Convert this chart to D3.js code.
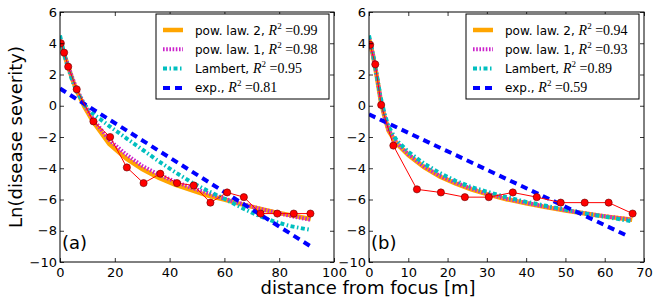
<!DOCTYPE html>
<html>
<head>
<meta charset="utf-8">
<script src="https://cdn.jsdelivr.net/npm/d3@7"></script>
<style>
  body { margin: 0; background: #fff; }
  svg { display: block; }
  .tick text { font-family: "DejaVu Sans", sans-serif; font-size: 13px; fill: #000; }
  .tick line { stroke: #000; stroke-width: 0.8; }
</style>
</head>
<body>
<div id="main"></div>
<script>
// observed data, panel (a)
const distA = [0.3, 1.5, 3.0, 6.1, 12.2, 18.3, 24.4, 30.5, 36.6, 42.7, 48.8, 54.9, 61.0, 67.1, 73.2, 79.3, 85.3, 91.4];
const sevA = [4.0, 3.4, 2.5, 1.05, -1.0, -2.0, -3.95, -4.95, -4.35, -4.95, -5.1, -6.2, -5.55, -5.85, -6.9, -6.9, -6.9, -6.9];

// observed data, panel (b)
const distB = [0.3, 1.6, 3.1, 6.2, 12.2, 18.3, 24.4, 30.5, 36.6, 42.7, 48.8, 54.9, 61.0, 67.1];
const sevB = [3.9, 2.65, 0.05, -2.55, -5.35, -5.55, -5.85, -5.85, -5.55, -5.85, -6.2, -6.2, -6.2, -6.9];

// fitted curves, panel (a)
const fitXA = [0, 1.5, 3, 4.5, 6, 9, 12, 18, 24, 30, 36, 42, 48, 54, 60, 66, 72, 78, 84, 91.5];
const pow2A = [4.2, 3.3, 2.5, 1.7, 1.0, -0.1, -1.0, -2.45, -3.35, -4.05, -4.6, -5.05, -5.4, -5.75, -6.0, -6.3, -6.55, -6.8, -7.0, -7.25];
const pow1A = [4.2, 3.35, 2.55, 1.8, 1.1, 0.05, -0.85, -2.2, -3.1, -3.85, -4.4, -4.85, -5.25, -5.6, -5.95, -6.25, -6.55, -6.8, -7.05, -7.3];
const lambA = [4.5, 3.3, 2.4, 1.6, 0.95, 0.05, -0.5, -1.3, -2.05, -2.8, -3.55, -4.25, -4.9, -5.45, -5.95, -6.5, -7.0, -7.4, -7.7, -7.95];
const expXA = [0, 91.5];
const expA = [1.1, -9.0];

// fitted curves, panel (b)
const fitXB = [0, 1, 2, 3, 4, 5, 7, 10, 14, 18, 22, 26, 30, 35, 40, 45, 50, 55, 60, 67];
const pow2B = [4.3, 3.25, 1.85, 0.3, -0.75, -1.6, -2.4, -3.15, -3.93, -4.53, -4.97, -5.35, -5.66, -5.98, -6.24, -6.49, -6.7, -6.9, -7.08, -7.3];
const pow1B = [4.3, 3.3, 1.9, 0.35, -0.7, -1.55, -2.35, -3.1, -3.88, -4.48, -4.92, -5.3, -5.62, -5.95, -6.21, -6.46, -6.68, -6.88, -7.07, -7.3];
const lambB = [4.5, 3.3, 1.9, 0.5, -0.55, -1.35, -2.2, -2.95, -3.7, -4.3, -4.8, -5.2, -5.5, -5.85, -6.15, -6.4, -6.65, -6.9, -7.1, -7.4];
const expXB = [0, 66];
const expB = [-0.55, -8.35];

const modelNames = ["pow. law. 2", "pow. law. 1", "Lambert", "exp."];
const r2A = ["0.99", "0.98", "0.95", "0.81"];
const r2B = ["0.94", "0.93", "0.89", "0.59"];

const xTicksA = [0, 20, 40, 60, 80, 100];
const xTicksB = [0, 10, 20, 30, 40, 50, 60, 70];
const yTicks = [-10, -8, -6, -4, -2, 0, 2, 4, 6];

const styles = [
  { color: "#ffa500", width: 4.5, dash: null },
  { color: "#cc22cc", width: 4, dash: "1.6,1.6" },
  { color: "#00bfbf", width: 4, dash: "4,2.5,1.5,2.5" },
  { color: "#0000ff", width: 4, dash: "7,5" }
];

const W = 664, H = 302;
const svg = d3.select("#main").append("svg").attr("width", W).attr("height", H);

const y = d3.scaleLinear().domain([-10, 6]).range([262, 12]);

function drawPanel(opts) {
  const x = d3.scaleLinear().domain(opts.xDomain).range(opts.xRange);
  const g = svg.append("g");
  const top = y.range()[1], bottom = y.range()[0];
  const left = opts.xRange[0], right = opts.xRange[1];

  g.append("clipPath").attr("id", opts.id + "-clip")
    .append("rect")
    .attr("x", left).attr("y", top)
    .attr("width", right - left).attr("height", bottom - top);

  const plot = g.append("g").attr("clip-path", `url(#${opts.id}-clip)`);
  const line = d3.line().x(d => x(d[0])).y(d => y(d[1]));

  opts.curves.forEach((c, i) => {
    const st = styles[i];
    plot.append("path")
      .datum(d3.zip(c.xs, c.ys))
      .attr("fill", "none")
      .attr("stroke", st.color)
      .attr("stroke-width", st.width)
      .attr("stroke-dasharray", st.dash)
      .attr("d", line);
  });

  const obs = d3.zip(opts.dist, opts.sev);
  plot.append("path")
    .datum(obs)
    .attr("fill", "none")
    .attr("stroke", "#ff0000")
    .attr("stroke-width", 1)
    .attr("d", line);
  plot.selectAll("circle.obs")
    .data(obs)
    .enter()
    .append("circle")
    .attr("class", "obs")
    .attr("cx", d => x(d[0]))
    .attr("cy", d => y(d[1]))
    .attr("r", 3.6)
    .attr("fill", "#ff0000")
    .attr("stroke", "#600")
    .attr("stroke-width", 0.6);

  // axes, ticks inward on every side
  g.append("g").attr("transform", `translate(0,${bottom})`)
    .call(d3.axisBottom(x).tickValues(opts.xTicks).tickSizeInner(-4).tickSizeOuter(0).tickPadding(6).tickFormat(d3.format("d")))
    .call(a => a.select(".domain").remove());
  g.append("g").attr("transform", `translate(0,${top})`)
    .call(d3.axisTop(x).tickValues(opts.xTicks).tickSizeInner(-4).tickSizeOuter(0).tickFormat(""))
    .call(a => a.select(".domain").remove());
  g.append("g").attr("transform", `translate(${left},0)`)
    .call(d3.axisLeft(y).tickValues(yTicks).tickSizeInner(-4).tickSizeOuter(0).tickPadding(3).tickFormat(d3.format("d")))
    .call(a => a.select(".domain").remove());
  g.append("g").attr("transform", `translate(${right},0)`)
    .call(d3.axisRight(y).tickValues(yTicks).tickSizeInner(-4).tickSizeOuter(0).tickFormat(""))
    .call(a => a.select(".domain").remove());

  g.append("rect")
    .attr("x", left).attr("y", top)
    .attr("width", right - left).attr("height", bottom - top)
    .attr("fill", "none").attr("stroke", "#000").attr("stroke-width", 1);

  g.append("text")
    .attr("x", left + 2).attr("y", 249)
    .attr("font-family", "DejaVu Sans, sans-serif")
    .attr("font-size", 18)
    .text(opts.tag);

  // legend
  const lw = 173, lx = right - 5 - lw, ly = 14;
  const lg = g.append("g");
  lg.append("rect")
    .attr("x", lx).attr("y", ly).attr("width", lw).attr("height", 85)
    .attr("fill", "#fff").attr("stroke", "#000").attr("stroke-width", 1);
  modelNames.forEach((name, i) => {
    const ry = 30 + i * 19.3;
    const st = styles[i];
    lg.append("line")
      .attr("x1", lx + 7).attr("x2", lx + 27)
      .attr("y1", ry).attr("y2", ry)
      .attr("stroke", st.color).attr("stroke-width", st.width)
      .attr("stroke-dasharray", st.dash);
    const t = lg.append("text")
      .attr("x", lx + 39).attr("y", ry + 4.5)
      .attr("font-family", "DejaVu Sans, sans-serif")
      .attr("font-size", 12);
    t.append("tspan").text(name + ", ");
    t.append("tspan").attr("font-family", "Liberation Serif, serif").attr("font-style", "italic").attr("font-size", 14).text("R");
    t.append("tspan").attr("font-family", "Liberation Serif, serif").attr("font-size", 9).attr("dy", -6).text("2");
    t.append("tspan").attr("font-family", "Liberation Serif, serif").attr("font-size", 14).attr("dy", 6).text(" =" + opts.r2[i]);
  });
}

drawPanel({
  id: "a", tag: "(a)", xDomain: [0, 100], xRange: [60, 334], xTicks: xTicksA,
  dist: distA, sev: sevA, r2: r2A,
  curves: [
    { xs: fitXA, ys: pow2A },
    { xs: fitXA, ys: pow1A },
    { xs: fitXA, ys: lambA },
    { xs: expXA, ys: expA }
  ]
});

drawPanel({
  id: "b", tag: "(b)", xDomain: [0, 70], xRange: [369, 644], xTicks: xTicksB,
  dist: distB, sev: sevB, r2: r2B,
  curves: [
    { xs: fitXB, ys: pow2B },
    { xs: fitXB, ys: pow1B },
    { xs: fitXB, ys: lambB },
    { xs: expXB, ys: expB }
  ]
});

svg.append("text")
  .attr("x", 368).attr("y", 294)
  .attr("text-anchor", "middle")
  .attr("font-family", "DejaVu Sans, sans-serif")
  .attr("font-size", 18)
  .text("distance from focus [m]");

svg.append("text")
  .attr("transform", "translate(22,137) rotate(-90)")
  .attr("text-anchor", "middle")
  .attr("font-family", "DejaVu Sans, sans-serif")
  .attr("font-size", 18)
  .text("Ln(disease severity)");
</script>
</body>
</html>
